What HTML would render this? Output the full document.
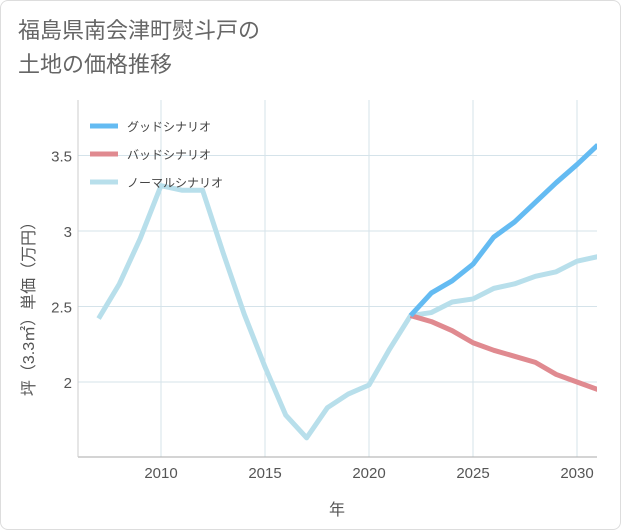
<!DOCTYPE html>
<html><head><meta charset="utf-8"><style>
body{margin:0;background:#fff;font-family:"Liberation Sans","Noto Sans CJK JP",sans-serif;}
#card{position:absolute;left:0;top:0;width:619px;height:528px;border:1px solid #ddd;border-radius:8px;background:#fff;}
#title{position:absolute;left:18px;top:14px;font-size:22px;line-height:34px;color:#666;}
svg{position:absolute;left:0;top:0}
</style></head><body>
<div id="card"></div>
<div id="title">福島県南会津町熨斗戸の<br>土地の価格推移</div>
<svg id="chart" width="621" height="530"></svg>
<script>
const years=[2007,2008,2009,2010,2011,2012,2013,2014,2015,2016,2017,2018,2019,2020,2021,2022,2023,2024,2025,2026,2027,2028,2029,2030,2031];
const normal=[2.42,2.65,2.95,3.3,3.27,3.27,2.85,2.45,2.1,1.78,1.63,1.83,1.92,1.98,2.22,2.44,2.46,2.53,2.55,2.62,2.65,2.70,2.73,2.80,2.83];
const futYears=[2022,2023,2024,2025,2026,2027,2028,2029,2030,2031];
const good=[2.44,2.59,2.67,2.78,2.96,3.06,3.19,3.32,3.44,3.57];
const bad=[2.44,2.40,2.34,2.26,2.21,2.17,2.13,2.05,2.00,1.95];
const xTicks=[2010,2015,2020,2025,2030];
const yTicks=[2,2.5,3,3.5];
const yLabels=["2","2.5","3","3.5"];
const legendNames=["グッドシナリオ","バッドシナリオ","ノーマルシナリオ"];
const legendColors=["#64bbf2","#e08a90","#b8dfeb"];

const L=78,R=597,T=100,B=457;
const xs=y=>161+(y-2010)*20.8;
const ys=v=>382-(v-2)*151;
const svg=document.getElementById('chart');
const NS='http://www.w3.org/2000/svg';
function mk(t,a){const e=document.createElementNS(NS,t);for(const k in a)e.setAttribute(k,a[k]);svg.appendChild(e);return e;}
xTicks.forEach(t=>{
  const g=mk('line',{x1:xs(t),x2:xs(t),y1:T,y2:B,stroke:'#d5e3ea','stroke-width':1});
  
  
  const tx=mk('text',{x:xs(t),y:478,'text-anchor':'middle','font-size':15,fill:'#555'});
  tx.textContent=t;
  
  
});
yTicks.forEach((t,i)=>{
  const g=mk('line',{x1:L,x2:R,y1:ys(t),y2:ys(t),stroke:'#d5e3ea','stroke-width':1});
  
  
  const tx=mk('text',{x:72,y:ys(t)+6,'text-anchor':'end','font-size':15,fill:'#555'});
  tx.textContent=yLabels[i];
  
  
});
const ax=mk('line',{x1:L,x2:R,y1:B,y2:B,stroke:'#aaa','stroke-width':1});


const ax2=mk('line',{x1:L,x2:L,y1:T,y2:B,stroke:'#ccc','stroke-width':1});


mk('clipPath',{id:'cp'}).appendChild(Object.assign(document.createElementNS(NS,'rect'),{}));
svg.lastChild.firstChild.setAttribute('x',L);svg.lastChild.firstChild.setAttribute('y',T);
svg.lastChild.firstChild.setAttribute('width',R-L);svg.lastChild.firstChild.setAttribute('height',B-T);
function line(xv,yv,c,name){
  const p=mk('polyline',{points:xv.map((x,i)=>xs(x)+','+ys(yv[i])).join(' '),fill:'none',stroke:c,'stroke-width':5,'stroke-linejoin':'round','clip-path':'url(#cp)'});
  
  
}
line(years,normal,legendColors[2],'normal-scenario-line');
line(futYears,bad,legendColors[1],'bad-scenario-line');
line(futYears,good,legendColors[0],'good-scenario-line');
legendNames.forEach((n,i)=>{
  const y=126+i*28;
  const l=mk('line',{x1:90,x2:118,y1:y,y2:y,stroke:legendColors[i],'stroke-width':5});
  
  
  const t=mk('text',{x:127,y:y+5,'font-size':12,fill:'#444'});
  t.textContent=n;
  
  
});
const xt=mk('text',{x:337,y:515,'text-anchor':'middle','font-size':16,fill:'#555'});
xt.textContent='年';


const yt=mk('text',{x:0,y:0,'text-anchor':'middle','font-size':16,fill:'#555',transform:'translate(34,305) rotate(-90)'});
yt.textContent='坪（3.3㎡）単価（万円）';


</script>
</body></html>
